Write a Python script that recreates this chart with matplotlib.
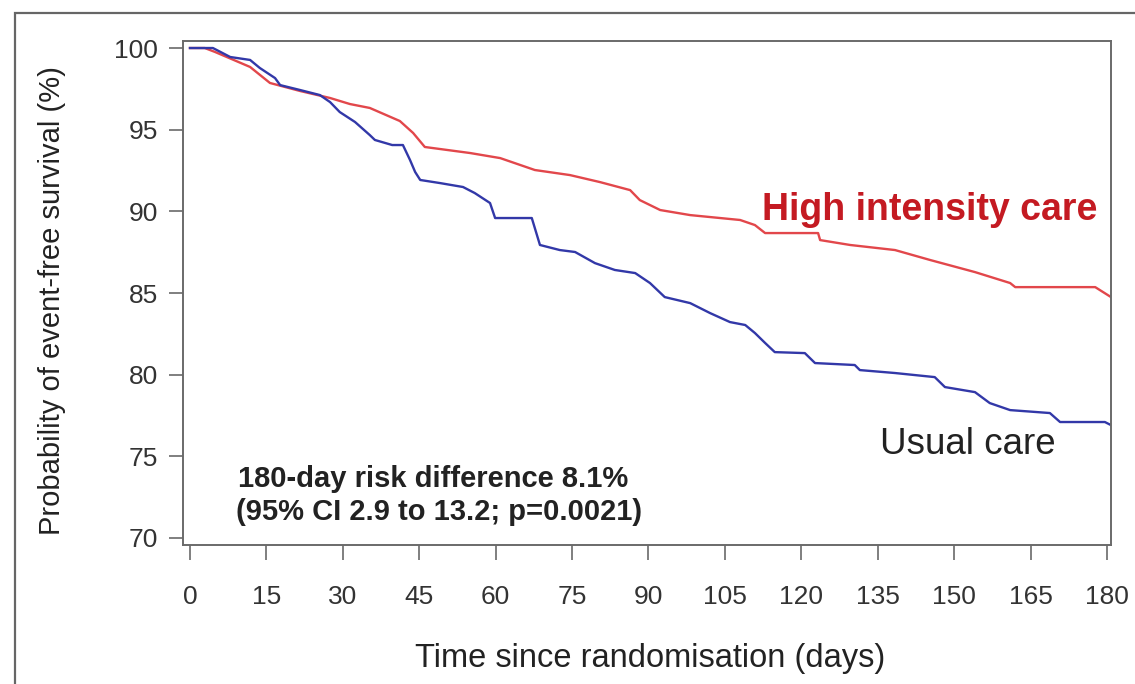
import matplotlib.pyplot as plt
from matplotlib.patches import Rectangle

plt.rcParams['font.family'] = ['Liberation Sans', 'DejaVu Sans']

# Kaplan-Meier style curves (days, event-free %)
high_days = [0, 2.9, 4.9, 11.8, 15.7, 21.6, 27.5, 31.4, 35.3, 41.2, 43.8, 46.1,
             55.0, 60.9, 67.7, 74.6, 80.5, 86.4, 88.3, 92.3, 98.2, 108.0, 110.9,
             112.9, 123.3, 123.7, 129.6, 138.4, 145.3, 154.1, 161.0, 162.0,
             177.7, 180.8]
high_surv = [100, 100, 99.76, 98.84, 97.86, 97.37, 96.94, 96.57, 96.33, 95.53,
             94.80, 93.94, 93.57, 93.26, 92.53, 92.22, 91.79, 91.30, 90.69,
             90.08, 89.77, 89.47, 89.16, 88.67, 88.67, 88.24, 87.94, 87.63,
             87.02, 86.28, 85.61, 85.36, 85.36, 84.75]

usual_days = [0, 4.5, 7.9, 11.8, 13.7, 16.7, 17.7, 21.6, 25.5, 27.5, 29.4,
              32.4, 35.3, 36.3, 39.7, 41.8, 43.2, 44.2, 45.2, 49.1, 53.6, 55.9,
              58.9, 59.9, 67.1, 68.7, 72.6, 75.6, 79.5, 83.4, 87.4, 90.3, 93.2,
              98.2, 102.1, 106.0, 109.0, 110.9, 112.9, 114.8, 120.7, 122.7,
              130.5, 131.5, 138.4, 146.2, 148.2, 154.1, 157.0, 161.0, 168.8,
              170.8, 179.6, 180.8]
usual_surv = [100, 100, 99.45, 99.27, 98.78, 98.16, 97.73, 97.43, 97.12, 96.69,
              96.08, 95.47, 94.67, 94.37, 94.06, 94.06, 93.14, 92.41, 91.92,
              91.73, 91.49, 91.12, 90.51, 89.59, 89.59, 87.94, 87.63, 87.51,
              86.83, 86.41, 86.22, 85.61, 84.75, 84.38, 83.77, 83.22, 83.04,
              82.55, 81.94, 81.38, 81.32, 80.71, 80.59, 80.28, 80.10, 79.85,
              79.24, 78.93, 78.26, 77.83, 77.65, 77.10, 77.10, 76.91]

x_ticks = list(range(0, 181, 15))
y_ticks = [70, 75, 80, 85, 90, 95, 100]

fig = plt.figure(figsize=(11.35, 6.84), dpi=100)

# outer frame (cut off at right and bottom like the source image)
fig.patches.append(Rectangle((15 / 1135, -0.2), 1.2, 1.2 - 13 / 684,
                             transform=fig.transFigure, fill=False,
                             edgecolor='#666666', linewidth=1.6))

ax = fig.add_axes([183 / 1135, 1 - 545 / 684, 928 / 1135, 504 / 684])

# the many small KM steps blur into a jagged slope at this size
ax.plot(high_days, high_surv, color='#e2474b', linewidth=1.7)
ax.plot(usual_days, usual_surv, color='#3238a8', linewidth=1.7)

ax.set_xlim(-1.37, 180.8)
ax.set_ylim(69.57, 100.43)
ax.set_xticks(x_ticks)
ax.set_yticks(y_ticks)

for s in ax.spines.values():
    s.set_color('#6a6a6a')
    s.set_linewidth(1.4)

ax.tick_params(axis='y', direction='out', length=10, width=1.2,
               color='#6a6a6a', labelsize=19, labelcolor='#333333', pad=8)
ax.tick_params(axis='x', direction='out', length=11, width=1.2,
               color='#6a6a6a', labelsize=19, labelcolor='#333333', pad=18)

ax.text(112.3, 89.47, 'High intensity care', color='#c41a22', fontsize=27,
        fontweight='bold', ha='left', va='baseline')
ax.text(135.5, 75.14, 'Usual care', color='#222222', fontsize=26.5,
        ha='left', va='baseline')

ax.text(9.4, 73.12, '180-day risk difference 8.1%', color='#222222',
        fontsize=21, fontweight='bold', ha='left', va='baseline')
ax.text(9.0, 71.1, '(95% CI 2.9 to 13.2; p=0.0021)', color='#222222',
        fontsize=21, fontweight='bold', ha='left', va='baseline')

fig.text(650 / 1135, 1 - 659 / 684, 'Time since randomisation (days)',
         fontsize=23.5, color='#222222', ha='center', va='center')
fig.text(52 / 1135, 1 - 301 / 684, 'Probability of event-free survival (%)',
         fontsize=21, color='#222222', ha='center', va='center', rotation=90)

fig.savefig('out.png', dpi=100)
